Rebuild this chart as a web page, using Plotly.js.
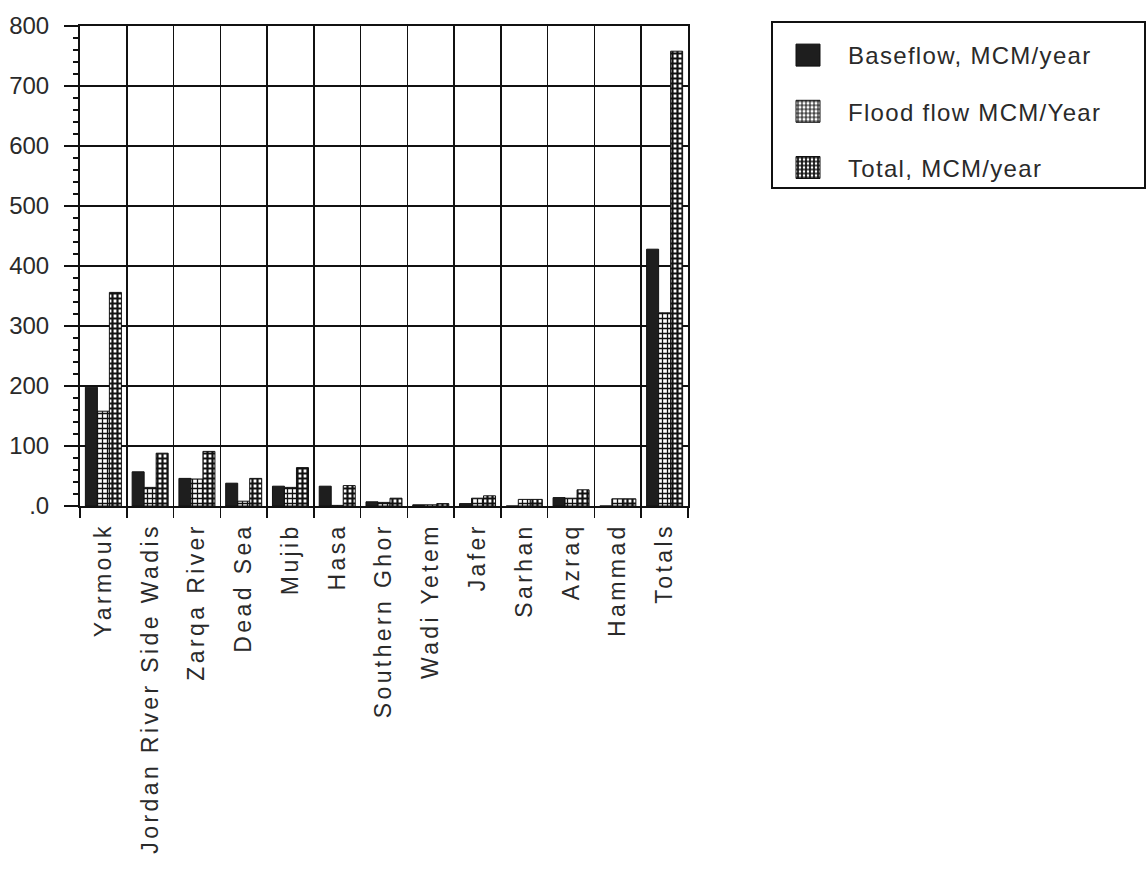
<!DOCTYPE html>
<html>
<head>
<meta charset="utf-8">
<script src="https://cdn.plot.ly/plotly-3.0.1.min.js"></script>
<style>
  html, body { margin: 0; padding: 0; background: #fff; }
  #chart { width: 1147px; height: 887px; }
  .xtick text { letter-spacing: 3.4px; }
  .legendtext { letter-spacing: 1.3px; }
</style>
</head>
<body>
<div id="chart"></div>
<script>
// Surface water flows by basin, MCM/year
const categories = ['Yarmouk', 'Jordan River Side Wadis', 'Zarqa River', 'Dead Sea', 'Mujib', 'Hasa',
  'Southern Ghor', 'Wadi Yetem', 'Jafer', 'Sarhan', 'Azraq', 'Hammad', 'Totals'];
const baseflow = [198, 57, 46, 38, 33, 33, 7, 2, 4, 0, 14, 0, 428];
const floodflow = [158, 31, 45, 8, 31, 1, 6, 2, 13, 11, 13, 12, 322];
const totalflow = [356, 88, 91, 46, 64, 34, 13, 4, 17, 11, 27, 12, 758];
const seriesNames = ['Baseflow, MCM/year', 'Flood flow MCM/Year', 'Total, MCM/year'];

// plot area in pixels
const W = 1147, H = 887;
const plotL = 80, plotR = 688, plotT = 26, plotB = 506;
const px = x => (x - plotL) / (plotR - plotL);
const py = y => (plotB - y) / (plotB - plotT);

const font = '"Liberation Sans", Arial, Helvetica, sans-serif';
const ink = '#2a2a2a';

const traces = [
  {
    type: 'bar', name: seriesNames[0], x: categories, y: baseflow, legendgroup: 'a',
    marker: { color: '#1e1e1e', line: { color: '#111', width: 1 } }
  },
  {
    type: 'bar', name: seriesNames[1], x: categories, y: floodflow, legendgroup: 'b',
    marker: {
      color: '#ffffff', line: { color: '#111', width: 1 },
      pattern: { shape: '+', fgcolor: '#111', bgcolor: '#ffffff', size: 5, solidity: 0.45 }
    }
  },
  {
    type: 'bar', name: seriesNames[2], x: categories, y: totalflow, legendgroup: 'c',
    marker: {
      color: '#ffffff', line: { color: '#111', width: 1 },
      pattern: { shape: '+', fgcolor: '#111', bgcolor: '#ffffff', size: 5, solidity: 0.68 }
    }
  }
];

const layout = {
  width: W, height: H,
  margin: { l: plotL, r: W - plotR, t: plotT, b: H - plotB, pad: 0 },
  paper_bgcolor: '#ffffff', plot_bgcolor: '#ffffff',
  font: { family: font, size: 23, color: ink },
  barmode: 'group', bargap: 0.23, bargroupgap: 0,
  showlegend: true,
  legend: {
    x: px(768), xanchor: 'left', y: py(33), yanchor: 'top',
    bgcolor: 'rgba(0,0,0,0)', borderwidth: 0,
    font: { family: font, size: 24, color: ink },
    tracegroupgap: 22, itemwidth: 70
  },
  xaxis: {
    type: 'category', tickson: 'boundaries',
    showgrid: true, gridcolor: '#111', gridwidth: 1.5,
    showline: true, linecolor: '#111', linewidth: 2, mirror: true,
    ticks: 'outside', ticklen: 10, tickwidth: 1.5, tickcolor: '#111',
    ticklabelstandoff: 6,
    tickangle: -90, tickfont: { family: font, size: 23, color: ink },
    fixedrange: true
  },
  yaxis: {
    range: [0, 800], tickmode: 'linear', tick0: 0, dtick: 100,
    labelalias: { '0': '.0' },
    showgrid: true, gridcolor: '#111', gridwidth: 2,
    zeroline: false,
    showline: true, linecolor: '#111', linewidth: 2, mirror: true,
    ticks: 'outside', ticklen: 14, tickwidth: 1.5, tickcolor: '#111',
    ticklabelstandoff: 10,
    minor: { tickmode: 'linear', tick0: 0, dtick: 20, ticks: 'outside', ticklen: 5, tickwidth: 1.5, tickcolor: '#111', showgrid: false },
    tickfont: { family: font, size: 24, color: ink },
    fixedrange: true
  },
  shapes: [
    {
      type: 'rect', xref: 'paper', yref: 'paper',
      x0: px(772), x1: px(1145), y0: py(188), y1: py(22),
      line: { color: '#111', width: 2 }, fillcolor: 'rgba(0,0,0,0)'
    }
  ]
};

Plotly.newPlot('chart', traces, layout, { displayModeBar: false, staticPlot: true }).then(gd => {
  // larger swatches in the legend
  gd.querySelectorAll('.legend .legendpoints path').forEach(p => {
    p.setAttribute('d', 'M12,11H-12V-11H12Z');
  });
});
</script>
</body>
</html>
